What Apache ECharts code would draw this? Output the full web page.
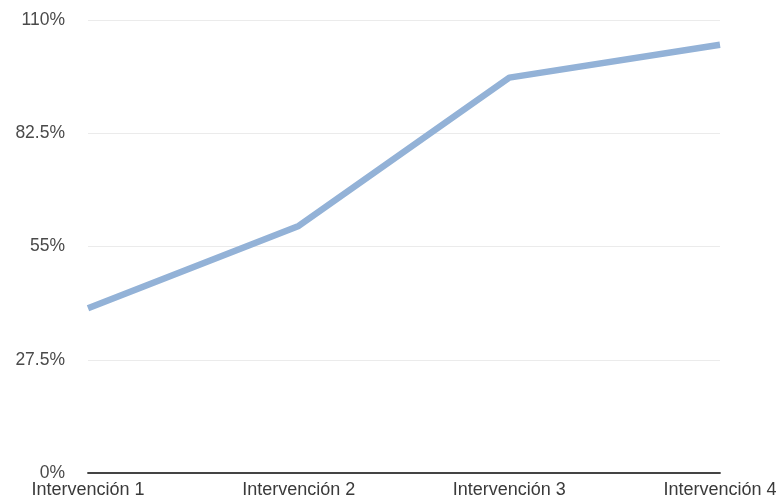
<!DOCTYPE html>
<html><head><meta charset="utf-8">
<script src="https://cdn.jsdelivr.net/npm/echarts@6/dist/echarts.min.js"></script>
<style>html,body{margin:0;padding:0;background:#fff}#c{width:783px;height:504px}</style>
</head><body><div id="c"></div>
<script>
const categories = ['Intervención 1', 'Intervención 2', 'Intervención 3', 'Intervención 4'];
const values = [40, 60, 96, 104];
const yTicks = [0, 27.5, 55, 82.5, 110];

const chart = echarts.init(document.getElementById('c'), null, {renderer: 'canvas'});
chart.setOption({
  animation: false,
  backgroundColor: '#fff',
  grid: {left: 88, right: 63, top: 20, bottom: 31},
  xAxis: {
    type: 'category', data: categories, boundaryGap: false,
    axisLine: {lineStyle: {color: '#444', width: 1.8}},
    axisTick: {show: false},
    axisLabel: {color: '#3a3a3a', fontFamily: 'Liberation Sans, Arial', fontSize: 18, margin: 8, interval: 0}
  },
  yAxis: {
    type: 'value', min: yTicks[0], max: yTicks[yTicks.length - 1], interval: 27.5,
    axisLine: {show: false}, axisTick: {show: false},
    axisLabel: {color: '#4a4a4a', fontFamily: 'Liberation Sans, Arial', fontSize: 17.5, margin: 23,
      formatter: v => v + '%'},
    splitLine: {lineStyle: {color: '#ebebeb', width: 1}}
  },
  series: [{
    type: 'line', data: values, symbol: 'none',
    lineStyle: {color: '#93b2d7', width: 6.5, cap: 'butt', join: 'round'}
  }]
});
</script></body></html>
